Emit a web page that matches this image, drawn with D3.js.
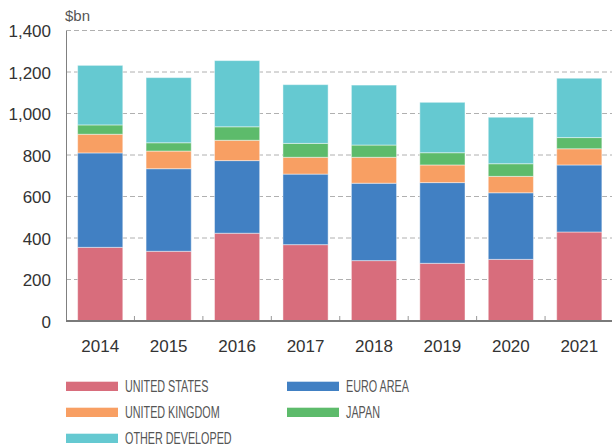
<!DOCTYPE html>
<html>
<head>
<meta charset="utf-8">
<script src="https://cdn.jsdelivr.net/npm/d3@7"></script>
<style>
  body { margin: 0; background: #fff; }
  svg { display: block; }
  .tick-label { font-family: "Liberation Sans", Arial, sans-serif; font-size: 17px; fill: #333; }
  .legend-label { font-family: "Liberation Sans", Arial, sans-serif; font-size: 16px; fill: #555; }
</style>
</head>
<body>
<div id="chart"><svg></svg></div>
<script>
const years = ["2014", "2015", "2016", "2017", "2018", "2019", "2020", "2021"];
const seriesNames = ["UNITED STATES", "EURO AREA", "UNITED KINGDOM", "JAPAN", "OTHER DEVELOPED"];
const unitedStates = [355, 336, 423, 368, 291, 278, 297, 429];
const euroArea = [455, 398, 350, 340, 373, 389, 321, 323];
const unitedKingdom = [90, 85, 98, 81, 125, 85, 79, 78];
const japan = [45, 40, 65, 67, 59, 59, 61, 54];
const otherDeveloped = [287, 314, 319, 283, 289, 243, 224, 286];
const yTicks = [0, 200, 400, 600, 800, 1000, 1200, 1400];
const colors = ["#d86d7c", "#4180c3", "#f89f63", "#5dbb6b", "#65c9d1"];

const seriesValues = [unitedStates, euroArea, unitedKingdom, japan, otherDeveloped];

// rows for the stack layout
const rows = years.map((y, i) => {
    const r = { year: y };
    seriesNames.forEach((s, k) => r[s] = seriesValues[k][i]);
    return r;
});

const W = 612, H = 448;
const plotLeft = 66, plotRight = 612, plotTop = 30.5, plotBottom = 321;

const svg = d3.select("#chart svg").attr("width", W).attr("height", H);

const x = d3.scaleBand().domain(years).range([plotLeft, plotRight + 1.5]).paddingInner(0.34).paddingOuter(0.17);
const y = d3.scaleLinear().domain([0, 1400]).range([plotBottom, plotTop]);

// gridlines
svg.append("g")
    .selectAll("line")
    .data(yTicks.filter(d => d > 0))
    .enter()
    .append("line")
    .attr("x1", plotLeft)
    .attr("x2", plotRight)
    .attr("y1", d => y(d))
    .attr("y2", d => y(d))
    .attr("stroke", "#b0b0b0")
    .attr("stroke-width", 1)
    .attr("stroke-dasharray", "5,3");

// stacked bars
const stacked = d3.stack().keys(seriesNames)(rows);

svg.append("g")
    .selectAll("g")
    .data(stacked)
    .enter()
    .append("g")
    .attr("fill", (d, i) => colors[i])
    .selectAll("rect")
    .data(d => d)
    .enter()
    .append("rect")
    .attr("x", d => x(d.data.year))
    .attr("width", x.bandwidth())
    .attr("y", d => y(d[1]))
    .attr("height", d => y(d[0]) - y(d[1]))
    .attr("stroke", "#fff")
    .attr("stroke-opacity", 0.45)
    .attr("stroke-width", 1);

// y axis
const yAxis = d3.axisLeft(y).tickValues(yTicks).tickSize(0).tickPadding(15).tickFormat(d3.format(","));
const yG = svg.append("g").attr("transform", `translate(${plotLeft},0)`).call(yAxis);
yG.select(".domain").attr("stroke", "#808080").attr("stroke-width", 1);
yG.selectAll("text").attr("class", "tick-label").attr("dy", "0.36em");

// x axis
const xAxis = d3.axisBottom(x).tickSize(0).tickPadding(19);
const xG = svg.append("g").attr("transform", `translate(0,${plotBottom})`).call(xAxis);
xG.select(".domain").remove();
xG.selectAll("text").attr("class", "tick-label").attr("dy", "0.71em");

// small ticks between the bars
svg.append("g")
    .selectAll("line")
    .data(years.slice(1))
    .enter()
    .append("line")
    .attr("x1", d => x(d) - x.step() * x.paddingInner() / 2)
    .attr("x2", d => x(d) - x.step() * x.paddingInner() / 2)
    .attr("y1", plotBottom)
    .attr("y2", plotBottom - 5)
    .attr("stroke", "#999")
    .attr("stroke-width", 1);

svg.append("line")
    .attr("x1", plotLeft)
    .attr("x2", plotRight)
    .attr("y1", plotBottom)
    .attr("y2", plotBottom)
    .attr("stroke", "#7a7a7a")
    .attr("stroke-width", 2);

// unit label
svg.append("text")
    .attr("x", plotLeft - 1)
    .attr("y", 20.5)
    .attr("font-family", "Liberation Sans, Arial, sans-serif")
    .attr("font-size", "15px")
    .attr("fill", "#555")
    .text("$bn");

// legend (condensed look by squeezing the text horizontally)
const legendPos = [[66, 381.7], [287, 381.7], [66, 407.7], [287, 407.7], [66, 433.7]];
const legend = svg.append("g").attr("class", "legend");

seriesNames.forEach((name, i) => {
    const row = legend.append("g").attr("transform", `translate(${legendPos[i][0]}, ${legendPos[i][1]})`);
    row.append("rect")
        .attr("width", 52)
        .attr("height", 9.3)
        .attr("fill", colors[i]);
    row.append("text")
        .attr("class", "legend-label")
        .attr("transform", "translate(59, 10.6) scale(0.675, 1)")
        .text(name);
});
</script>
</body>
</html>
